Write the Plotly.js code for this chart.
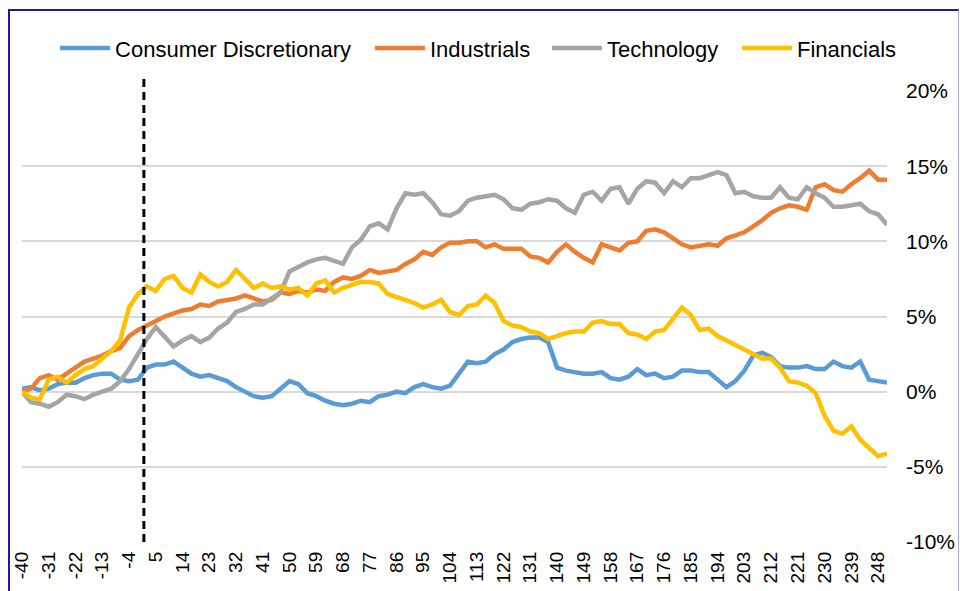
<!DOCTYPE html>
<html>
<head>
<meta charset="utf-8">
<script src="https://cdn.plot.ly/plotly-3.0.1.min.js"></script>
<style>
  html, body { margin: 0; padding: 0; background: #fff; overflow: hidden; }
  #chart { width: 960px; height: 591px; }
  #frame { position: absolute; left: 8px; top: 9px; width: 948px; height: 600px;
           border-left: 2px solid #1a1aa6; border-top: 2px solid #1a1aa6; border-right: 1px solid #a8a8e0;
           pointer-events: none; }
</style>
</head>
<body>
<div id="chart"></div>
<div id="frame"></div>
<script>
// Trading days relative to event
const days = [-40,-37,-34,-31,-28,-25,-22,-19,-16,-13,-10,-7,-4,-1,2,5,8,11,14,17,20,23,26,29,32,35,38,41,44,47,50,53,56,59,62,65,68,71,74,77,80,83,86,89,92,95,98,101,104,107,110,113,116,119,122,125,128,131,134,137,140,143,146,149,152,155,158,161,164,167,170,173,176,179,182,185,188,191,194,197,200,203,206,209,212,215,218,221,224,227,230,233,236,239,242,245,248,251];

// Cumulative relative performance (%)
const consumerDiscretionary = [0.2,0.3,0.1,0.2,0.5,0.6,0.6,0.9,1.1,1.2,1.2,0.8,0.7,0.8,1.6,1.8,1.8,2.0,1.6,1.2,1.0,1.1,0.9,0.7,0.3,0.0,-0.3,-0.4,-0.3,0.2,0.7,0.5,-0.1,-0.3,-0.6,-0.8,-0.9,-0.8,-0.6,-0.7,-0.3,-0.2,0.0,-0.1,0.3,0.5,0.3,0.2,0.4,1.2,2.0,1.9,2.0,2.5,2.8,3.3,3.5,3.6,3.6,3.3,1.6,1.4,1.3,1.2,1.2,1.3,0.9,0.8,1.0,1.5,1.1,1.2,0.9,1.0,1.4,1.4,1.3,1.3,0.8,0.3,0.7,1.4,2.4,2.6,2.3,1.7,1.6,1.6,1.7,1.5,1.5,2.0,1.7,1.6,2.0,0.8,0.7,0.6];

const industrials = [0.0,0.2,0.9,1.1,0.8,1.2,1.6,2.0,2.2,2.4,2.7,2.9,3.7,4.1,4.4,4.7,5.0,5.2,5.4,5.5,5.8,5.7,6.0,6.1,6.2,6.4,6.2,6.0,6.1,6.6,6.5,6.7,6.6,6.8,6.7,7.3,7.6,7.5,7.7,8.1,7.9,8.0,8.1,8.5,8.8,9.3,9.1,9.6,9.9,9.9,10.0,10.0,9.6,9.8,9.5,9.5,9.5,9.0,8.9,8.6,9.3,9.8,9.3,8.9,8.6,9.8,9.6,9.4,9.9,10.0,10.7,10.8,10.6,10.2,9.8,9.6,9.7,9.8,9.7,10.2,10.4,10.6,11.0,11.4,11.9,12.2,12.4,12.3,12.1,13.6,13.8,13.4,13.3,13.8,14.2,14.7,14.1,14.1];

const technology = [0.0,-0.7,-0.8,-1.0,-0.7,-0.2,-0.3,-0.5,-0.2,0.0,0.2,0.7,1.5,2.5,3.5,4.3,3.6,3.0,3.4,3.7,3.3,3.6,4.2,4.6,5.3,5.5,5.8,5.8,6.2,6.6,8.0,8.3,8.6,8.8,8.9,8.7,8.5,9.6,10.1,11.0,11.2,10.8,12.2,13.2,13.1,13.2,12.6,11.8,11.7,12.0,12.7,12.9,13.0,13.1,12.8,12.2,12.1,12.5,12.6,12.8,12.7,12.2,11.9,13.1,13.3,12.7,13.5,13.6,12.5,13.5,14.0,13.9,13.2,14.0,13.6,14.2,14.2,14.4,14.6,14.4,13.2,13.3,13.0,12.9,12.9,13.6,12.9,12.8,13.6,13.2,12.9,12.3,12.3,12.4,12.5,12.0,11.8,11.1];

const financials = [0.0,-0.4,-0.5,0.8,1.0,0.6,1.1,1.5,1.7,2.2,2.7,3.4,5.6,6.5,7.0,6.7,7.5,7.7,6.9,6.6,7.8,7.3,7.0,7.3,8.1,7.5,6.9,7.2,6.9,7.0,6.8,6.9,6.4,7.2,7.4,6.6,6.9,7.1,7.3,7.3,7.2,6.5,6.3,6.1,5.9,5.6,5.8,6.1,5.3,5.1,5.7,5.8,6.4,5.9,4.7,4.4,4.3,4.0,3.9,3.5,3.7,3.9,4.0,4.0,4.6,4.7,4.5,4.5,3.9,3.8,3.5,4.0,4.1,4.8,5.6,5.1,4.1,4.2,3.7,3.4,3.1,2.8,2.5,2.2,2.2,1.6,0.7,0.6,0.4,-0.1,-1.6,-2.6,-2.8,-2.3,-3.2,-3.8,-4.3,-4.1];

const seriesNames = ["Consumer Discretionary","Industrials","Technology","Financials"];
const seriesColors = ["#5B9BD5","#ED7D31","#A5A5A5","#FFC000"];

const xTickVals = [-40,-31,-22,-13,-4,5,14,23,32,41,50,59,68,77,86,95,104,113,122,131,140,149,158,167,176,185,194,203,212,221,230,239,248];
const xTickText = ["-40","-31","-22","-13","-4","5","14","23","32","41","50","59","68","77","86","95","104","113","122","131","140","149","158","167","176","185","194","203","212","221","230","239","248"];
const yTickVals = [-10,-5,0,5,10,15,20];
const yTickText = ["-10%","-5%","0%","5%","10%","15%","20%"];
const eventDay = 1;

const fam = "Liberation Sans, Arial, sans-serif";
const legendIds = ["legend", "legend2", "legend3", "legend4"];
const legendX = [0.0382, 0.4023, 0.6069, 0.8266];

const allSeries = [consumerDiscretionary, industrials, technology, financials];
const traces = allSeries.map((vals, i) => ({
  type: "scatter", mode: "lines", x: days, y: vals, name: seriesNames[i],
  line: { color: seriesColors[i], width: 4.5 }, legend: legendIds[i]
}));

const layout = {
  width: 960, height: 591,
  margin: { l: 22, r: 73, t: 91, b: 49 },
  paper_bgcolor: "#fff", plot_bgcolor: "#fff",
  font: { family: fam, color: "#000" },
  showlegend: true,
  xaxis: {
    range: [-40, 251], tickmode: "array", tickvals: xTickVals, ticktext: xTickText,
    tickangle: -90, tickfont: { family: fam, size: 19, color: "#000" },
    showgrid: false, zeroline: false, showline: false, ticks: "", ticklabelstandoff: 5
  },
  yaxis: {
    side: "right", range: [-10, 20], tickmode: "array", tickvals: yTickVals, ticktext: yTickText,
    tickfont: { family: fam, size: 21, color: "#000" },
    gridcolor: "#D9D9D9", gridwidth: 2, zeroline: false, showline: false, ticks: "",
    ticklabelstandoff: 18
  },
  shapes: [{
    type: "line", xref: "x", yref: "paper", x0: eventDay, x1: eventDay, y0: 0, y1: 1.029,
    line: { color: "#000", width: 3, dash: "8px,5px" }
  }]
};
legendIds.forEach((id, i) => {
  layout[id] = {
    orientation: "h", x: legendX[i], xanchor: "left", y: 1.095, yanchor: "middle",
    font: { family: fam, size: 22, color: "#000" }, itemwidth: 50,
    bgcolor: "rgba(0,0,0,0)"
  };
});

Plotly.newPlot("chart", traces, layout, { staticPlot: true, displayModeBar: false });
</script>
</body>
</html>
